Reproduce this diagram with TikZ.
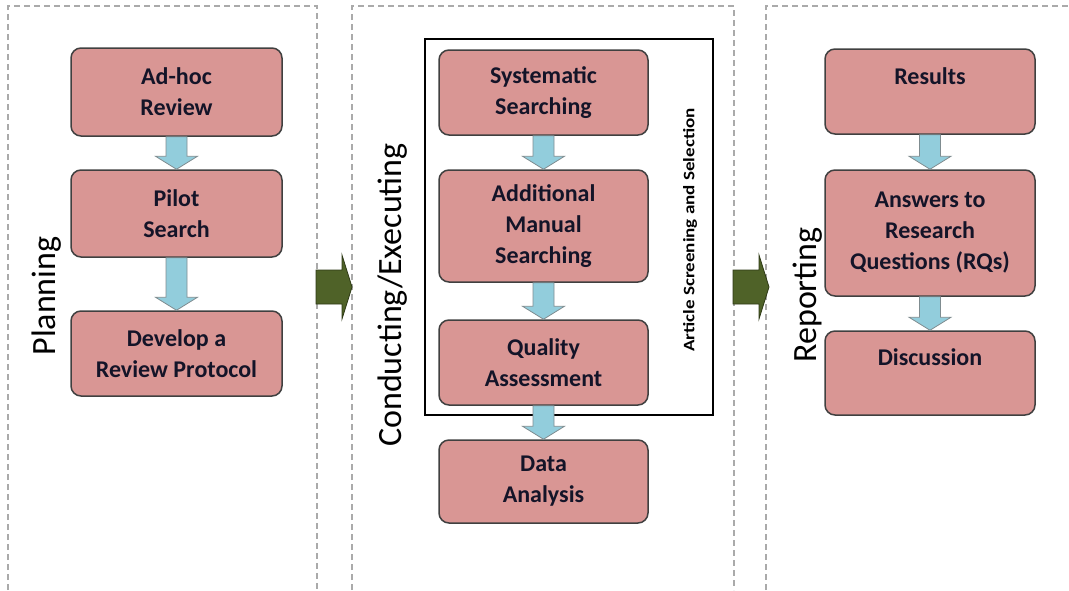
\documentclass[tikz,border=0pt]{standalone}
\usepackage{fontspec}
\setmainfont{Carlito}
\usetikzlibrary{calc}
\definecolor{boxfill}{HTML}{D99694}
\definecolor{boxline}{HTML}{404040}
\definecolor{txt}{HTML}{141428}
\definecolor{arrowblue}{HTML}{92CDDC}
\definecolor{arrowline}{HTML}{7F8C90}
\definecolor{olivefill}{HTML}{4F6228}
\definecolor{oliveline}{HTML}{2E3A16}
\definecolor{panelgray}{HTML}{AAAAAA}
\tikzset{
  stepbox/.style={draw=boxline, fill=boxfill, rounded corners=10pt, line width=1.5pt,
    align=center, font=\fontsize{24}{31}\selectfont\bfseries, text=txt, inner sep=0pt},
  phase/.style={rotate=90, font=\fontsize{34}{38}\selectfont, text=black, inner sep=0pt},
  flowarrow/.style={fill=arrowblue, draw=arrowline, line width=0.8pt, line join=miter},
  phasearrow/.style={fill=olivefill, draw=oliveline, line width=0.8pt},
  panel/.style={draw=panelgray, dash pattern=on 6pt off 4pt, line width=1.2pt},
  groupbox/.style={draw=black, line width=1.3pt},
  grouplabel/.style={rotate=90, font=\fontsize{16}{18}\selectfont\bfseries, text=black, inner sep=0pt}
}
\newcommand\blockdown[2]{%
  \draw[flowarrow] ($(#1.south)+(-10.5,0)$) -- ($(#2.north)+(-10.5,-13)$)
    -- ($(#2.north)+(-21,-13)$) -- (#2.north) -- ($(#2.north)+(21,-13)$)
    -- ($(#2.north)+(10.5,-13)$) -- ($(#1.south)+(10.5,0)$) -- cycle;}
\newcommand\blockright[1]{%
  \draw[phasearrow] ($(#1)+(0,-17)$) -- ($(#1)+(26,-17)$) -- ($(#1)+(26,-32)$)
    -- ($(#1)+(36,0)$) -- ($(#1)+(26,32)$) -- ($(#1)+(26,17)$) -- ($(#1)+(0,17)$) -- cycle;}
\begin{document}
\begin{tikzpicture}[x=1pt,y=-1pt]
\useasboundingbox (0,0) rectangle (1069,590);
% panels
\draw[panel] (8,590) -- (8,6) -- (317,6) -- (317,590);
\draw[panel] (352,590) -- (352,6) -- (734,6) -- (734,590);
\draw[panel] (766,590) -- (766,6) -- (1069,6);
% phase labels
\node[phase] (planning) at (47,296) {Planning};
\node[phase] (conducting) at (393,295) {Conducting/Executing};
\node[phase] (reporting) at (808,295) {Reporting};
% planning boxes
\node[stepbox, minimum width=211pt, minimum height=88pt] (adhoc) at (176.5,92) {Ad-hoc\\Review};
\node[stepbox, minimum width=211pt, minimum height=87pt] (pilot) at (176.5,213.5) {Pilot\\Search};
\node[stepbox, minimum width=211pt, minimum height=85pt] (protocol) at (176.5,353.5) {Develop a\\Review Protocol};
% conducting
\draw[groupbox] (425,39) rectangle (713,415);
\node[grouplabel] (screening) at (690,230) {\scalebox{1.19}[1]{Article Screening and Selection}};
\node[stepbox, minimum width=209pt, minimum height=85pt] (sys) at (543.5,92.5) {Systematic\\Searching};
\node[stepbox, minimum width=209pt, minimum height=112pt] (manual) at (543.5,226) {Additional\\Manual\\Searching};
\node[stepbox, minimum width=209pt, minimum height=85pt] (quality) at (543.5,362.5) {Quality\\Assessment};
\node[stepbox, minimum width=209pt, minimum height=83pt] (data) at (543.5,481.5) {Data\\Analysis};
% reporting
\node[stepbox, minimum width=210pt, minimum height=85pt] (results) at (930,91.5) {Results\\~};
\node[stepbox, minimum width=210pt, minimum height=126pt] (answers) at (930,233) {Answers to\\Research\\Questions (RQs)};
\node[stepbox, minimum width=210pt, minimum height=84pt] (discussion) at (930,373) {Discussion\\~};
% flow arrows
\blockdown{adhoc}{pilot}
\blockdown{pilot}{protocol}
\blockdown{sys}{manual}
\blockdown{manual}{quality}
\blockdown{quality}{data}
\blockdown{results}{answers}
\blockdown{answers}{discussion}
% phase arrows
\coordinate (g1) at (316,287);
\coordinate (g2) at (733,287);
\blockright{g1}
\blockright{g2}
\end{tikzpicture}
\end{document}
